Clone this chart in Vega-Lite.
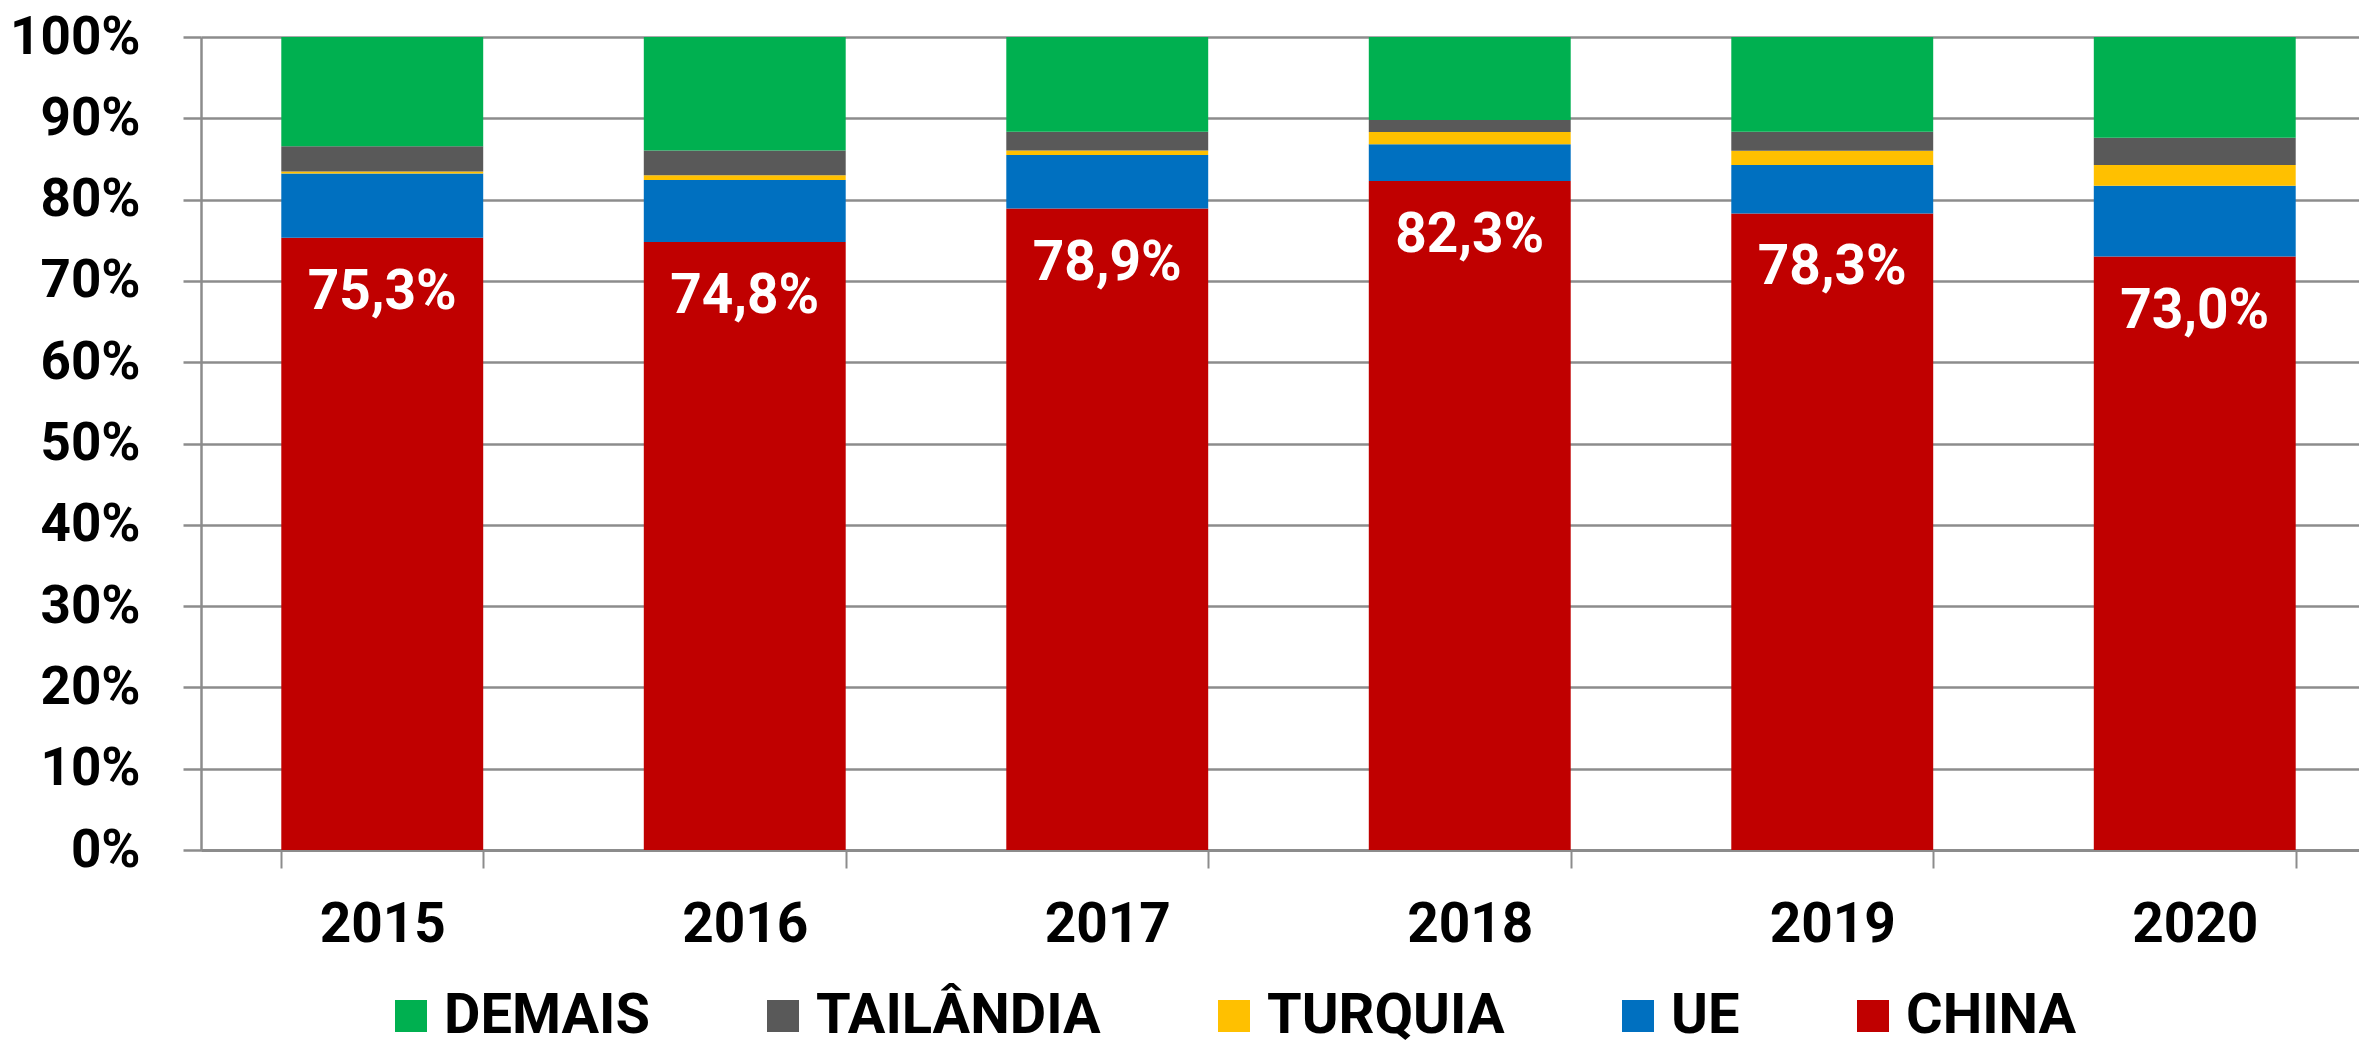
{
  "$schema": "https://vega.github.io/schema/vega-lite/v6.json",
  "width": 2175,
  "height": 813,
  "autosize": {"type": "none"},
  "padding": {"left": 201, "top": 37, "right": 0, "bottom": 196},
  "background": "white",
  "config": {"view": {"stroke": null}, "font": "Roboto"},
  "data": {
    "values": [
      {"ano": "2015", "pais": "CHINA", "valor": 75.3},
      {"ano": "2015", "pais": "UE", "valor": 7.9},
      {"ano": "2015", "pais": "TURQUIA", "valor": 0.25},
      {"ano": "2015", "pais": "TAILÂNDIA", "valor": 3.1},
      {"ano": "2015", "pais": "DEMAIS", "valor": 13.45},
      {"ano": "2016", "pais": "CHINA", "valor": 74.8},
      {"ano": "2016", "pais": "UE", "valor": 7.6},
      {"ano": "2016", "pais": "TURQUIA", "valor": 0.6},
      {"ano": "2016", "pais": "TAILÂNDIA", "valor": 3.05},
      {"ano": "2016", "pais": "DEMAIS", "valor": 13.95},
      {"ano": "2017", "pais": "CHINA", "valor": 78.9},
      {"ano": "2017", "pais": "UE", "valor": 6.6},
      {"ano": "2017", "pais": "TURQUIA", "valor": 0.55},
      {"ano": "2017", "pais": "TAILÂNDIA", "valor": 2.3},
      {"ano": "2017", "pais": "DEMAIS", "valor": 11.65},
      {"ano": "2018", "pais": "CHINA", "valor": 82.3},
      {"ano": "2018", "pais": "UE", "valor": 4.5},
      {"ano": "2018", "pais": "TURQUIA", "valor": 1.5},
      {"ano": "2018", "pais": "TAILÂNDIA", "valor": 1.5},
      {"ano": "2018", "pais": "DEMAIS", "valor": 10.2},
      {"ano": "2019", "pais": "CHINA", "valor": 78.3},
      {"ano": "2019", "pais": "UE", "valor": 5.95},
      {"ano": "2019", "pais": "TURQUIA", "valor": 1.75},
      {"ano": "2019", "pais": "TAILÂNDIA", "valor": 2.35},
      {"ano": "2019", "pais": "DEMAIS", "valor": 11.65},
      {"ano": "2020", "pais": "CHINA", "valor": 73.0},
      {"ano": "2020", "pais": "UE", "valor": 8.7},
      {"ano": "2020", "pais": "TURQUIA", "valor": 2.55},
      {"ano": "2020", "pais": "TAILÂNDIA", "valor": 3.35},
      {"ano": "2020", "pais": "DEMAIS", "valor": 12.4}
    ]
  },
  "transform": [
    {"calculate": "indexof(['CHINA','UE','TURQUIA','TAILÂNDIA','DEMAIS'], datum.pais)", "as": "ord"}
  ],
  "encoding": {
    "x": {
      "field": "ano",
      "type": "nominal",
      "scale": {"paddingInner": 0.443, "paddingOuter": 0.2215},
      "axis": {
        "title": null,
        "labelAngle": 0,
        "tickBand": "extent",
        "tickSize": 18,
        "tickWidth": 2,
        "tickColor": "#8c8c8c",
        "domainColor": "#8c8c8c",
        "domainWidth": 3,
        "labelPadding": 30,
        "labelFontSize": 55,
        "labelFontWeight": "bold",
        "labelColor": "black",
        "grid": false
      }
    }
  },
  "layer": [
    {
      "mark": {"type": "bar"},
      "encoding": {
        "y": {
          "field": "valor",
          "type": "quantitative",
          "stack": "zero",
          "scale": {"domain": [0, 100], "nice": false},
          "axis": {
            "title": null,
            "values": [0, 10, 20, 30, 40, 50, 60, 70, 80, 90, 100],
            "labelExpr": "datum.value + '%'",
            "labelFontSize": 53,
            "labelFontWeight": "bold",
            "labelColor": "black",
            "labelPadding": 43,
            "tickSize": 18,
            "tickWidth": 2.5,
            "tickColor": "#8c8c8c",
            "domainColor": "#8c8c8c",
            "domainWidth": 2.5,
            "grid": true,
            "gridColor": "#8c8c8c",
            "gridWidth": 2.5
          }
        },
        "color": {
          "field": "pais",
          "type": "nominal",
          "scale": {
            "domain": ["DEMAIS", "TAILÂNDIA", "TURQUIA", "UE", "CHINA"],
            "range": ["#00B050", "#595959", "#FFC000", "#0070C0", "#C00000"]
          },
          "legend": {
            "orient": "none",
            "legendX": 182,
            "legendY": 951,
            "direction": "horizontal",
            "columns": 5,
            "title": null,
            "symbolType": "square",
            "symbolSize": 1024,
            "symbolStrokeWidth": 0,
            "labelFontSize": 56,
            "labelFontWeight": "bold",
            "labelColor": "black",
            "labelOffset": 5,
            "columnPadding": 105,
            "labelLimit": 0
          }
        },
        "order": {"field": "ord", "type": "quantitative"}
      }
    },
    {
      "transform": [
        {"filter": "datum.pais === 'CHINA'"},
        {"calculate": "replace(format(datum.valor, '.1f'), '.', ',') + '%'", "as": "rotulo"}
      ],
      "mark": {"type": "text", "color": "white", "fontSize": 55, "fontWeight": "bold", "baseline": "middle", "dy": 54},
      "encoding": {
        "y": {"field": "valor", "type": "quantitative"},
        "text": {"field": "rotulo", "type": "nominal"}
      }
    }
  ]
}
